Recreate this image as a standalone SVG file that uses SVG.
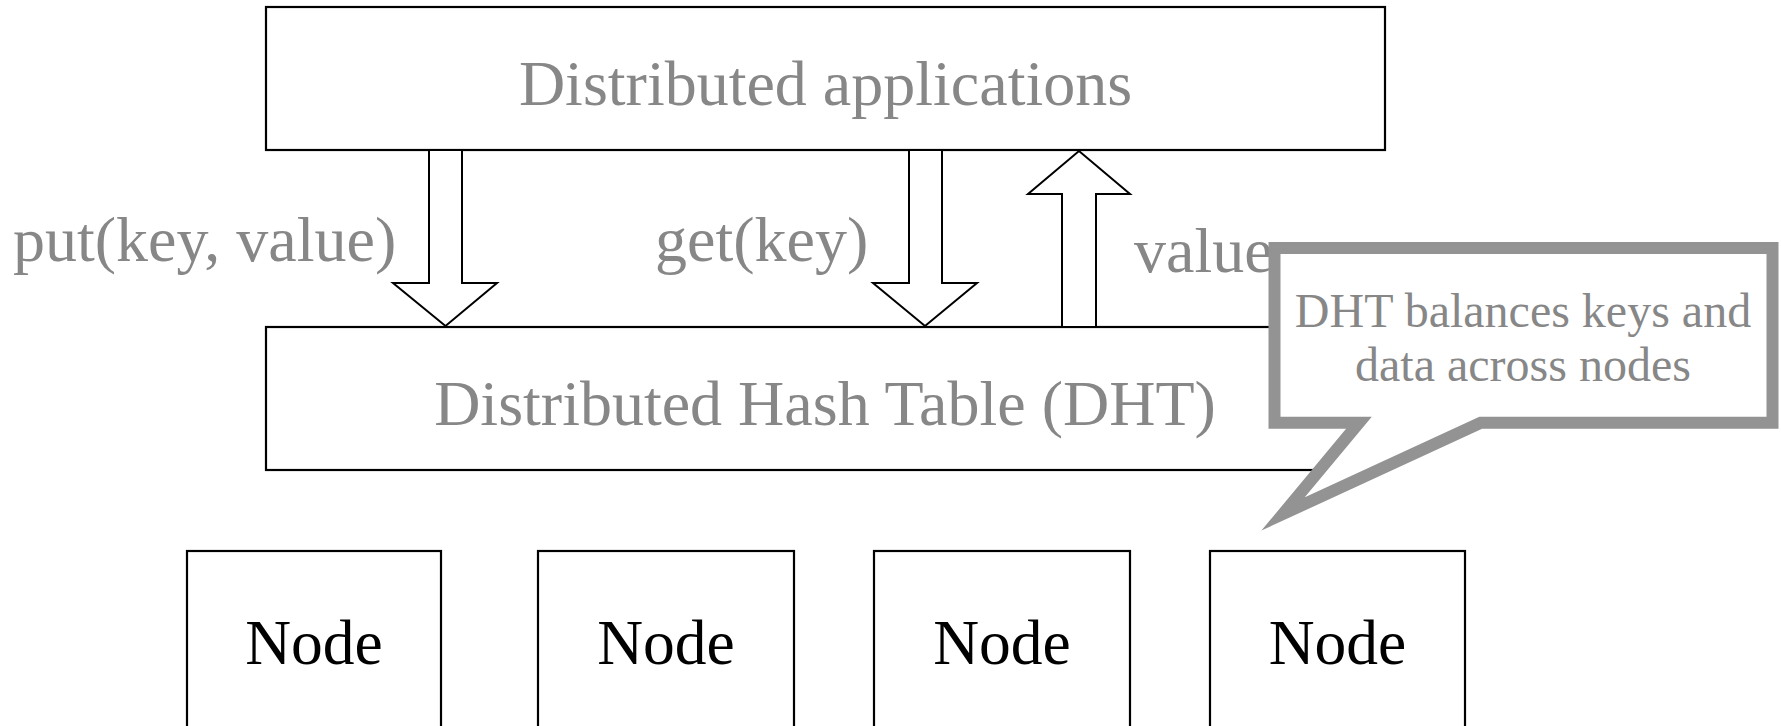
<svg xmlns="http://www.w3.org/2000/svg" width="1781" height="726" viewBox="0 0 1781 726">
  <style>
    .box { fill: #ffffff; stroke: #000000; stroke-width: 2.2; }
    .arrow { fill: #ffffff; stroke: #000000; stroke-width: 2; stroke-linejoin: miter; }
    .gray { font-family: "Liberation Serif", "Times New Roman", serif; fill: #878787; }
    .big { font-size: 64px; }
    .node { font-family: "Liberation Serif", "Times New Roman", serif; font-size: 63.5px; fill: #000000; text-anchor: middle; }
    .callout { fill: #ffffff; stroke: #939393; stroke-width: 12; stroke-linejoin: miter; stroke-miterlimit: 10; }
    .ctext { font-size: 48px; text-anchor: middle; }
  </style>
  <rect width="1781" height="726" fill="#ffffff"/>

  <g id="apps">
    <rect class="box" x="266" y="7" width="1119" height="143"/>
    <text class="gray big" x="825.5" y="105" text-anchor="middle">Distributed applications</text>
  </g>

  <g id="dht">
    <rect class="box" x="266" y="327" width="1086" height="143"/>
    <text class="gray big" x="825" y="425" text-anchor="middle">Distributed Hash Table (DHT)</text>
  </g>

  <g id="connectors">
    <polygon class="arrow" points="429,150 462,150 462,283 497,283 445.5,326 393,283 429,283"/>
    <polygon class="arrow" points="909,150 942,150 942,283 977,283 925,326 873,283 909,283"/>
    <polygon class="arrow" points="1062,327 1096,327 1096,194 1130,194 1079,151 1028,194 1062,194"/>
    <text class="gray big" x="13" y="261">put(key, value)</text>
    <text class="gray big" x="655" y="261">get(key)</text>
    <text class="gray big" x="1134" y="272">value</text>
  </g>

  <g id="node1">
    <rect class="box" x="187" y="551" width="254" height="200"/>
    <text class="node" x="314" y="664">Node</text>
  </g>
  <g id="node2">
    <rect class="box" x="538" y="551" width="256" height="200"/>
    <text class="node" x="666" y="664">Node</text>
  </g>
  <g id="node3">
    <rect class="box" x="874" y="551" width="256" height="200"/>
    <text class="node" x="1002" y="664">Node</text>
  </g>
  <g id="node4">
    <rect class="box" x="1210" y="551" width="255" height="200"/>
    <text class="node" x="1337.5" y="664">Node</text>
  </g>

  <g id="callout">
    <path class="callout" d="M1274.5,248 H1772.5 V422.7 H1480.7 L1283,514 L1359,422.7 H1274.5 Z"/>
    <text class="gray ctext" x="1523" y="327">DHT balances keys and</text>
    <text class="gray ctext" x="1523" y="381">data across nodes</text>
  </g>
</svg>
